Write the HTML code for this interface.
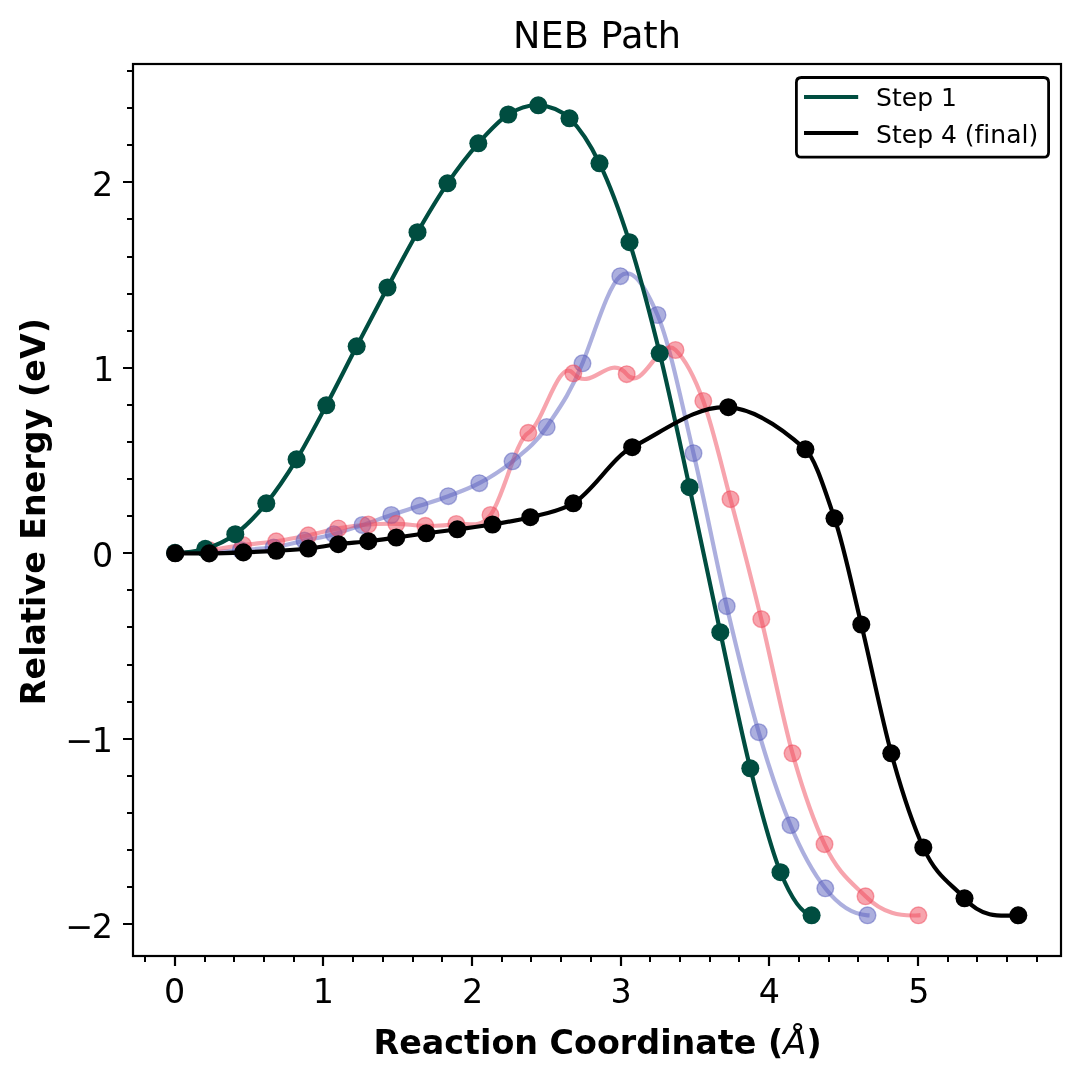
<!DOCTYPE html>
<html lang="en"><head><meta charset="utf-8"><title>NEB Path</title>
<style>html,body{margin:0;padding:0;background:#fff}body{width:1080px;height:1080px;overflow:hidden}</style>
</head><body>
<svg width="1080" height="1080" viewBox="0 0 1080 1080" style="display:block;font-variant-ligatures:none" font-family="'DejaVu Sans','Liberation Sans',sans-serif" fill="#000">
<rect width="1080" height="1080" fill="#fff"/>
<defs><clipPath id="ax"><rect x="133.0" y="64.0" width="928.0" height="892.0"/></clipPath></defs>
<g clip-path="url(#ax)">
<path d="M175.00 552.90C186.33 552.90 197.67 552.82 209.00 552.30C219.60 551.81 230.20 550.80 240.80 550.00C251.73 549.17 262.67 549.06 273.60 547.40C283.90 545.84 294.20 542.86 304.50 540.60C314.27 538.46 324.03 536.84 333.80 534.20C343.37 531.62 352.93 528.19 362.50 525.00C372.10 521.79 381.70 518.23 391.30 515.00C400.70 511.84 410.10 508.90 419.50 505.80C429.10 502.63 438.70 499.80 448.30 496.20C458.63 492.33 468.97 488.73 479.30 483.20C490.37 477.28 501.43 470.47 512.50 461.30C523.90 451.85 535.30 444.10 546.70 427.00C558.63 409.10 570.57 393.13 582.50 363.30C595.10 331.80 607.70 286.91 620.30 276.20C632.70 265.66 645.10 286.48 657.50 315.00C669.50 342.60 681.50 402.33 693.50 453.20C704.57 500.11 715.63 558.98 726.70 606.20C737.37 651.71 748.03 695.62 758.70 732.20C769.30 768.55 779.90 799.82 790.50 825.20C802.10 852.97 813.70 873.42 825.30 888.30C839.37 906.35 853.43 914.60 867.50 915.30" fill="none" stroke="#5A5FBE" stroke-opacity="0.5" stroke-width="4.17" stroke-linecap="square" stroke-linejoin="round"/>

<path d="M175.00 552.90C186.33 552.90 197.67 551.32 209.00 550.00C220.33 548.68 231.67 546.46 243.00 545.00C254.07 543.57 265.13 542.96 276.20 541.30C286.90 539.70 297.60 537.54 308.30 535.30C318.30 533.21 328.30 530.20 338.30 528.40C348.30 526.60 358.30 525.26 368.30 524.50C377.63 523.79 386.97 523.60 396.30 523.80C405.97 524.00 415.63 525.73 425.30 525.80C435.63 525.88 445.97 525.61 456.30 524.00C467.70 522.23 479.10 529.82 490.50 515.00C503.10 498.62 515.70 439.60 528.30 432.80C543.30 424.70 558.30 356.35 573.30 373.30C591.10 393.41 608.90 352.48 626.70 374.20C642.97 394.05 659.23 334.55 675.50 350.00C684.77 358.80 694.03 375.68 703.30 401.00C712.37 425.77 721.43 465.25 730.50 499.20C740.77 537.64 751.03 577.15 761.30 619.20C771.70 661.80 782.10 716.08 792.50 753.30C803.17 791.47 813.83 821.24 824.50 844.20C838.17 873.62 851.83 882.63 865.50 896.30C883.13 913.93 900.77 916.36 918.40 915.30" fill="none" stroke="#F04A5C" stroke-opacity="0.5" stroke-width="4.17" stroke-linecap="square" stroke-linejoin="round"/>

<g fill="#5A5FBE" fill-opacity="0.5" stroke="#5A5FBE" stroke-opacity="0.5" stroke-width="1.39">
<circle cx="175.00" cy="552.90" r="8.33"/>
<circle cx="209.00" cy="552.30" r="8.33"/>
<circle cx="240.80" cy="550.00" r="8.33"/>
<circle cx="273.60" cy="547.40" r="8.33"/>
<circle cx="304.50" cy="540.60" r="8.33"/>
<circle cx="333.80" cy="534.20" r="8.33"/>
<circle cx="362.50" cy="525.00" r="8.33"/>
<circle cx="391.30" cy="515.00" r="8.33"/>
<circle cx="419.50" cy="505.80" r="8.33"/>
<circle cx="448.30" cy="496.20" r="8.33"/>
<circle cx="479.30" cy="483.20" r="8.33"/>
<circle cx="512.50" cy="461.30" r="8.33"/>
<circle cx="546.70" cy="427.00" r="8.33"/>
<circle cx="582.50" cy="363.30" r="8.33"/>
<circle cx="620.30" cy="276.20" r="8.33"/>
<circle cx="657.50" cy="315.00" r="8.33"/>
<circle cx="693.50" cy="453.20" r="8.33"/>
<circle cx="726.70" cy="606.20" r="8.33"/>
<circle cx="758.70" cy="732.20" r="8.33"/>
<circle cx="790.50" cy="825.20" r="8.33"/>
<circle cx="825.30" cy="888.30" r="8.33"/>
<circle cx="867.50" cy="915.30" r="8.33"/>
</g>

<g fill="#F04A5C" fill-opacity="0.5" stroke="#F04A5C" stroke-opacity="0.5" stroke-width="1.39">
<circle cx="175.00" cy="552.90" r="8.33"/>
<circle cx="209.00" cy="550.00" r="8.33"/>
<circle cx="243.00" cy="545.00" r="8.33"/>
<circle cx="276.20" cy="541.30" r="8.33"/>
<circle cx="308.30" cy="535.30" r="8.33"/>
<circle cx="338.30" cy="528.40" r="8.33"/>
<circle cx="368.30" cy="524.50" r="8.33"/>
<circle cx="396.30" cy="523.80" r="8.33"/>
<circle cx="425.30" cy="525.80" r="8.33"/>
<circle cx="456.30" cy="524.00" r="8.33"/>
<circle cx="490.50" cy="515.00" r="8.33"/>
<circle cx="528.30" cy="432.80" r="8.33"/>
<circle cx="573.30" cy="373.30" r="8.33"/>
<circle cx="626.70" cy="374.20" r="8.33"/>
<circle cx="675.50" cy="350.00" r="8.33"/>
<circle cx="703.30" cy="401.00" r="8.33"/>
<circle cx="730.50" cy="499.20" r="8.33"/>
<circle cx="761.30" cy="619.20" r="8.33"/>
<circle cx="792.50" cy="753.30" r="8.33"/>
<circle cx="824.50" cy="844.20" r="8.33"/>
<circle cx="865.50" cy="896.30" r="8.33"/>
<circle cx="918.40" cy="915.30" r="8.33"/>
</g>

<path d="M175.00 552.90C185.10 552.90 195.20 551.95 205.30 548.80C215.30 545.68 225.30 541.58 235.30 534.20C245.63 526.58 255.97 515.96 266.30 503.30C276.40 490.92 286.50 475.93 296.60 459.40C306.50 443.19 316.40 423.92 326.30 405.30C336.43 386.24 346.57 365.81 356.70 346.30C366.97 326.54 377.23 306.76 387.50 287.50C397.50 268.74 407.50 249.57 417.50 232.20C427.50 214.83 437.50 197.97 447.50 183.30C457.77 168.24 468.03 154.87 478.30 143.30C488.30 132.03 498.30 120.83 508.30 114.50C518.30 108.17 528.30 104.82 538.30 105.30C548.70 105.80 559.10 108.22 569.50 118.30C579.50 127.99 589.50 142.65 599.50 163.30C609.50 183.95 619.50 210.67 629.50 242.20C639.57 273.94 649.63 312.14 659.70 353.30C669.63 393.92 679.57 441.52 689.50 487.20C699.77 534.41 710.03 584.76 720.30 632.20C730.30 678.41 740.30 728.40 750.30 768.30C760.37 808.47 770.43 847.76 780.50 872.20C790.87 897.37 801.23 913.23 811.60 915.30" fill="none" stroke="#004D40" stroke-opacity="1" stroke-width="4.17" stroke-linecap="square" stroke-linejoin="round"/>

<g fill="#004D40" >
<circle cx="175.00" cy="552.90" r="9.03"/>
<circle cx="205.30" cy="548.80" r="9.03"/>
<circle cx="235.30" cy="534.20" r="9.03"/>
<circle cx="266.30" cy="503.30" r="9.03"/>
<circle cx="296.60" cy="459.40" r="9.03"/>
<circle cx="326.30" cy="405.30" r="9.03"/>
<circle cx="356.70" cy="346.30" r="9.03"/>
<circle cx="387.50" cy="287.50" r="9.03"/>
<circle cx="417.50" cy="232.20" r="9.03"/>
<circle cx="447.50" cy="183.30" r="9.03"/>
<circle cx="478.30" cy="143.30" r="9.03"/>
<circle cx="508.30" cy="114.50" r="9.03"/>
<circle cx="538.30" cy="105.30" r="9.03"/>
<circle cx="569.50" cy="118.30" r="9.03"/>
<circle cx="599.50" cy="163.30" r="9.03"/>
<circle cx="629.50" cy="242.20" r="9.03"/>
<circle cx="659.70" cy="353.30" r="9.03"/>
<circle cx="689.50" cy="487.20" r="9.03"/>
<circle cx="720.30" cy="632.20" r="9.03"/>
<circle cx="750.30" cy="768.30" r="9.03"/>
<circle cx="780.50" cy="872.20" r="9.03"/>
<circle cx="811.60" cy="915.30" r="9.03"/>
</g>

<path d="M175.30 553.30C186.60 553.30 197.90 553.55 209.20 553.40C220.57 553.25 231.93 552.84 243.30 552.40C254.30 551.97 265.30 551.46 276.30 550.80C286.97 550.16 297.63 549.66 308.30 548.50C318.30 547.41 328.30 545.42 338.30 544.20C348.30 542.98 358.30 542.37 368.30 541.20C377.63 540.11 386.97 538.77 396.30 537.50C406.30 536.14 416.30 534.65 426.30 533.30C436.63 531.91 446.97 530.67 457.30 529.30C469.03 527.75 480.77 526.42 492.50 524.50C505.10 522.44 517.70 520.40 530.30 517.20C544.63 513.56 558.97 511.74 573.30 503.30C592.93 491.74 612.57 457.02 632.20 447.20C664.23 431.18 696.27 404.96 728.30 407.20C754.00 409.00 779.70 426.17 805.40 449.30C815.10 458.03 824.80 490.17 834.50 518.30C843.43 544.21 852.37 587.71 861.30 624.50C871.30 665.69 881.30 716.90 891.30 753.30C901.97 792.13 912.63 824.08 923.30 847.50C937.03 877.66 950.77 882.92 964.50 898.30C982.43 918.39 1000.37 916.02 1018.30 915.30" fill="none" stroke="#000000" stroke-opacity="1" stroke-width="4.17" stroke-linecap="square" stroke-linejoin="round"/>

<g fill="#000000" >
<circle cx="175.30" cy="553.30" r="9.03"/>
<circle cx="209.20" cy="553.40" r="9.03"/>
<circle cx="243.30" cy="552.40" r="9.03"/>
<circle cx="276.30" cy="550.80" r="9.03"/>
<circle cx="308.30" cy="548.50" r="9.03"/>
<circle cx="338.30" cy="544.20" r="9.03"/>
<circle cx="368.30" cy="541.20" r="9.03"/>
<circle cx="396.30" cy="537.50" r="9.03"/>
<circle cx="426.30" cy="533.30" r="9.03"/>
<circle cx="457.30" cy="529.30" r="9.03"/>
<circle cx="492.50" cy="524.50" r="9.03"/>
<circle cx="530.30" cy="517.20" r="9.03"/>
<circle cx="573.30" cy="503.30" r="9.03"/>
<circle cx="632.20" cy="447.20" r="9.03"/>
<circle cx="728.30" cy="407.20" r="9.03"/>
<circle cx="805.40" cy="449.30" r="9.03"/>
<circle cx="834.50" cy="518.30" r="9.03"/>
<circle cx="861.30" cy="624.50" r="9.03"/>
<circle cx="891.30" cy="753.30" r="9.03"/>
<circle cx="923.30" cy="847.50" r="9.03"/>
<circle cx="964.50" cy="898.30" r="9.03"/>
<circle cx="1018.30" cy="915.30" r="9.03"/>
</g>

</g>
<path d="M175.00 956.00v10M323.00 956.00v10M472.00 956.00v10M621.00 956.00v10M769.00 956.00v10M918.00 956.00v10M133.00 924.00h-10M133.00 739.00h-10M133.00 553.00h-10M133.00 368.00h-10M133.00 182.00h-10" stroke="#000" stroke-width="2.2" fill="none"/>
<path d="M145.00 956.00v6M205.00 956.00v6M234.00 956.00v6M264.00 956.00v6M294.00 956.00v6M353.00 956.00v6M383.00 956.00v6M413.00 956.00v6M442.00 956.00v6M502.00 956.00v6M531.00 956.00v6M561.00 956.00v6M591.00 956.00v6M650.00 956.00v6M680.00 956.00v6M710.00 956.00v6M739.00 956.00v6M799.00 956.00v6M829.00 956.00v6M858.00 956.00v6M888.00 956.00v6M948.00 956.00v6M977.00 956.00v6M1007.00 956.00v6M1037.00 956.00v6M133.00 887.00h-6M133.00 850.00h-6M133.00 813.00h-6M133.00 776.00h-6M133.00 702.00h-6M133.00 665.00h-6M133.00 627.00h-6M133.00 590.00h-6M133.00 516.00h-6M133.00 479.00h-6M133.00 442.00h-6M133.00 405.00h-6M133.00 331.00h-6M133.00 294.00h-6M133.00 257.00h-6M133.00 219.00h-6M133.00 145.00h-6M133.00 108.00h-6M133.00 71.00h-6" stroke="#000" stroke-width="2" fill="none"/>
<rect x="133.0" y="64.0" width="928.0" height="892.0" fill="none" stroke="#000" stroke-width="2.2"/>
<text x="174.70" y="1002.8" font-size="33.33" text-anchor="middle">0</text>
<text x="323.29" y="1002.8" font-size="33.33" text-anchor="middle">1</text>
<text x="472.63" y="1002.8" font-size="33.33" text-anchor="middle">2</text>
<text x="621.22" y="1002.8" font-size="33.33" text-anchor="middle">3</text>
<text x="769.41" y="1002.8" font-size="33.33" text-anchor="middle">4</text>
<text x="918.75" y="1002.8" font-size="33.33" text-anchor="middle">5</text>
<text x="65.4 91.8" y="937.70" font-size="33.33">−2</text>
<text x="65.4 91.8" y="752.25" font-size="33.33">−1</text>
<text x="113.10" y="566.80" font-size="33.33" text-anchor="end">0</text>
<text x="114.10" y="381.35" font-size="33.33" text-anchor="end">1</text>
<text x="113.10" y="195.90" font-size="33.33" text-anchor="end">2</text>
<text x="597" y="47.8" font-size="36.67" text-anchor="middle">NEB Path</text>
<text x="597.6" y="1053.8" font-size="33.33" font-weight="bold" text-anchor="middle">Reaction Coordinate (<tspan font-weight="normal" font-style="italic" font-size="34">Å</tspan>)</text>
<text transform="translate(45 511.6) rotate(-90)" font-size="33.33" font-weight="bold" text-anchor="middle">Relative Energy (eV)</text>
<path d="M801.4 77.5H1043.6Q1048.6 77.5 1048.6 82.5V152.2Q1048.6 157.2 1043.6 157.2H801.4Q796.4 157.2 796.4 152.2V82.5Q796.4 77.5 801.4 77.5Z" fill="#fff" stroke="#000" stroke-width="2.78" stroke-linejoin="miter"/>
<path d="M806.1 97h50" stroke="#004D40" stroke-width="4.17" stroke-linecap="square"/>
<path d="M806.1 133h50" stroke="#000" stroke-width="4.17" stroke-linecap="square"/>
<text x="876.1" y="106.2" font-size="25">Step 1</text>
<text x="876.1" y="142.9" font-size="25">Step 4 (final)</text>
</svg>
</body></html>
